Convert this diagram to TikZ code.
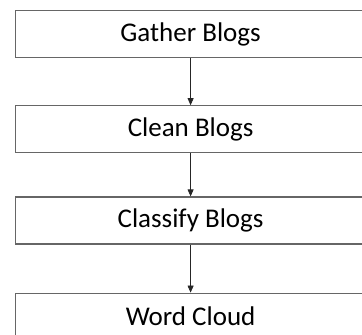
\documentclass[tikz,border=0pt]{standalone}
\usepackage{fontspec}
\setmainfont{Carlito}
\usetikzlibrary{positioning,arrows.meta}

\begin{document}
\begin{tikzpicture}[
  etapa/.style={draw=black!60, line width=1.2pt, minimum width=350pt,
    minimum height=47pt, inner sep=0pt, font=\fontsize{27}{32}\selectfont},
  seta/.style={-{Triangle[length=7pt,width=6pt]}, line width=0.7pt, black!85}
]

% Moldura da figura
\useasboundingbox (0,0) rectangle (362pt,-335pt);
\clip (0,0) rectangle (362pt,-335pt);

% ==========================================================
% Etapas do processo
% ==========================================================
\node[etapa, anchor=north west] (gather) at (15pt,-10pt) {Gather Blogs};
\node[etapa, below=47pt of gather] (clean) {Clean Blogs};
\node[etapa, below=43pt of clean] (classify) {Classify Blogs};
\node[etapa, below=48pt of classify] (cloud) {Word Cloud};

% ==========================================================
% Setas
% ==========================================================
\draw[seta] (gather) -- (clean);
\draw[seta] (clean) -- (classify);
\draw[seta] (classify) -- (cloud);

\end{tikzpicture}
\end{document}
